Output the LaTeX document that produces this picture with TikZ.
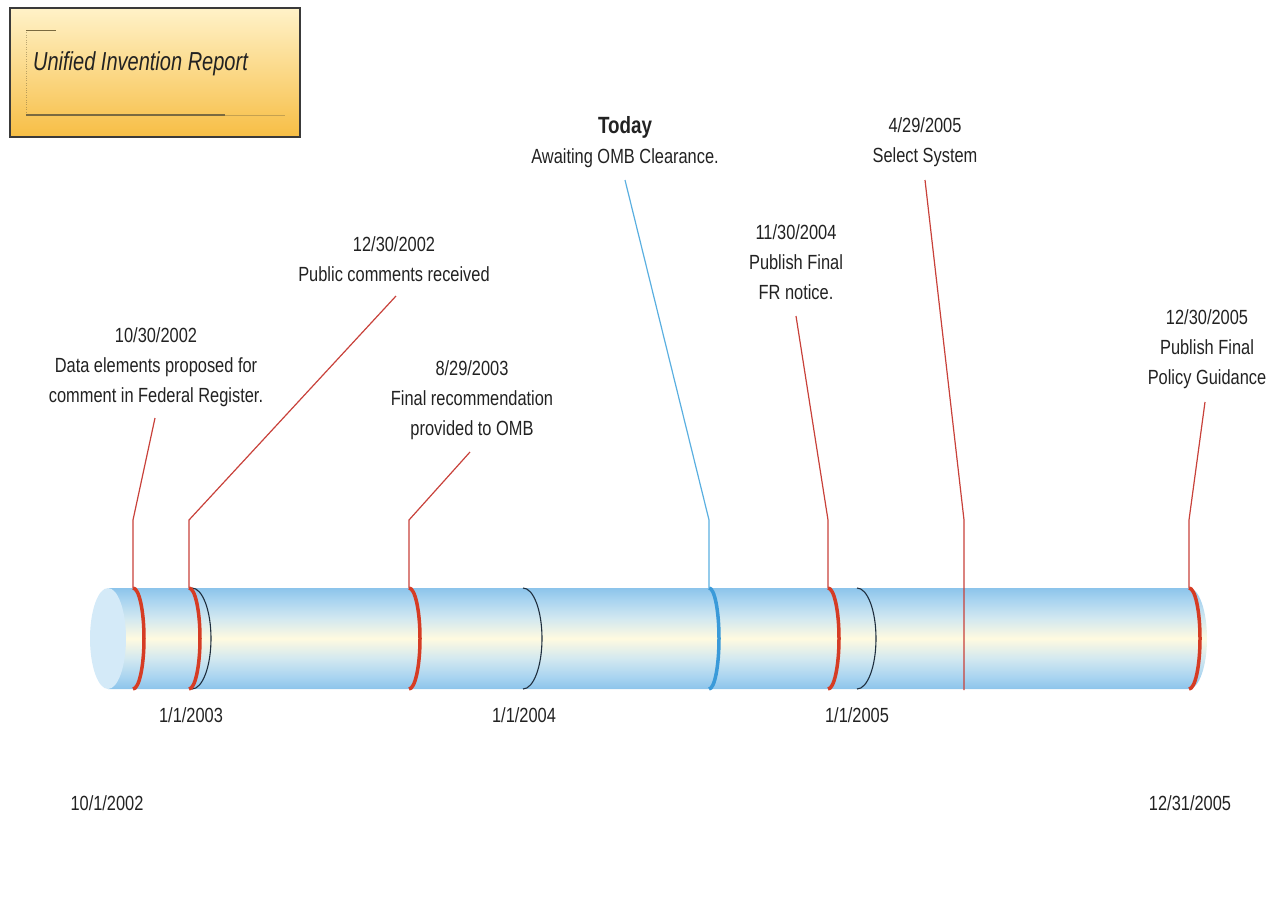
\documentclass[tikz,border=0pt]{standalone}
\usepackage{fontspec}
\setmainfont{Liberation Sans}[FakeStretch=0.8]
\newfontfamily\titlefont{Liberation Sans}[FakeStretch=0.77]
\usetikzlibrary{positioning,calc}

\definecolor{txt}{HTML}{222222}
\definecolor{leadred}{HTML}{C8413A}
\definecolor{ringred}{HTML}{D63C24}
\definecolor{leadblue}{HTML}{5AAFE0}
\definecolor{ringblue}{HTML}{3A9AD9}
\definecolor{ringdark}{HTML}{1F2F3F}
\definecolor{tubeblue}{HTML}{8CC4EB}
\definecolor{tubemid}{HTML}{A9D4F0}
\definecolor{tubelight}{HTML}{D2E8F0}
\definecolor{tubecream}{HTML}{FFFAE0}
\definecolor{tubeend}{HTML}{D4EAF8}
\definecolor{boxtop}{HTML}{FFF2C8}
\definecolor{boxbottom}{HTML}{F7BE45}
\definecolor{boxedge}{HTML}{3A3A3A}
\definecolor{boxline}{HTML}{7A6A40}

\pgfdeclareverticalshading{tube}{100bp}{color(0bp)=(tubeblue); color(25bp)=(tubeblue);
  color(31bp)=(tubemid); color(40bp)=(tubelight); color(50bp)=(tubecream);
  color(60bp)=(tubelight); color(69bp)=(tubemid); color(75bp)=(tubeblue); color(100bp)=(tubeblue)}

\begin{document}
\begin{tikzpicture}[x=1pt, y=-1pt,
    every node/.style={font=\fontsize{20.5}{30}\selectfont, text=txt, align=center, inner sep=0pt},
    leader/.style={draw=leadred, line width=1.2pt},
    todayleader/.style={draw=leadblue, line width=1.2pt},
    redring/.style={draw=ringred, line width=3.5pt},
    bluering/.style={draw=ringblue, line width=3.5pt},
    yearring/.style={draw=ringdark, line width=1.1pt}]

    \useasboundingbox (0,0) rectangle (1282,905);

    \draw[draw=boxedge, line width=1.6pt, top color=boxtop, bottom color=boxbottom] (10,8) rectangle (300,137);
    \draw[boxline, line width=0.8pt] (26,30) -- (56,30);
    \draw[boxline, dotted, opacity=0.5] (26,30) -- (26,115);
    \draw[boxline, line width=1.3pt] (26,115) -- (225,115);
    \draw[boxline, opacity=0.4] (225,115) -- (285,115);
    \node[font=\titlefont\itshape\fontsize{26}{30}\selectfont] (title) at (140.5,63.3) {Unified Invention Report};

    \shade[shading=tube] (108,588) -- (1189,588)
      arc[start angle=-90, end angle=90, x radius=18, y radius=50.5] -- (108,689) -- cycle;
    \fill[tubeend] (108,638.5) ellipse [x radius=18, y radius=50.5];

    \coordinate (e1) at (133,588);
    \coordinate (e2) at (189,588);
    \coordinate (e3) at (409,588);
    \coordinate (e4) at (709,588);
    \coordinate (e5) at (828,588);
    \coordinate (e6) at (964,588);
    \coordinate (e7) at (1189,588);
    \coordinate (b6) at (964,690);

    \coordinate (y03) at (192,588);
    \coordinate (y04) at (523,588);
    \coordinate (y05) at (857,588);

    \foreach \e in {y03,y04,y05}
      \draw[yearring] (\e) arc[start angle=-90, end angle=90, x radius=19, y radius=50.5];
    \foreach \e in {e1,e2,e3,e5,e7}
      \draw[redring] (\e) arc[start angle=-90, end angle=90, x radius=11, y radius=50.5];
    \draw[bluering] (e4) arc[start angle=-90, end angle=90, x radius=10, y radius=50.5];

    \foreach \i in {1,...,7}
      \coordinate[above=68pt of e\i] (k\i);

    \coordinate (t1) at (155,418);
    \coordinate (t2) at (396,296);
    \coordinate (t3) at (470,452);
    \coordinate (t4) at (625,180);
    \coordinate (t5) at (796,316);
    \coordinate (t6) at (925,180);
    \coordinate (t7) at (1205,402);

    \foreach \i in {1,2,3,5,7}
      \draw[leader] (e\i) -- (k\i) -- (t\i);
    \draw[leader] (b6) -- (e6) -- (k6) -- (t6);
    \draw[todayleader] (e4) -- (k4) -- (t4);

    \node (d1) at (156,367.2) {10/30/2002\\Data elements proposed for\\comment in Federal Register.};
    \node (d2) at (394,259) {12/30/2002\\Public comments received};
    \node (d3) at (472,400.2) {8/29/2003\\Final recommendation\\provided to OMB};
    \node[font=\bfseries\fontsize{23.5}{30}\selectfont] (today) at (625,127.2) {Today};
    \node[below=10pt of today] (d4) {Awaiting OMB Clearance.};
    \node (d5) at (796,262) {11/30/2004\\Publish Final\\FR notice.};
    \node (d6) at (925,142.2) {4/29/2005\\Select System};
    \node (d7) at (1207,349.2) {12/30/2005\\Publish Final\\Policy Guidance};

    \node (n03) at (191,715) {1/1/2003};
    \node (n04) at (524,715) {1/1/2004};
    \node (n05) at (857,715) {1/1/2005};
    \node (start) at (107,803) {10/1/2002};
    \node (end) at (1190,803) {12/31/2005};

\end{tikzpicture}
\end{document}
